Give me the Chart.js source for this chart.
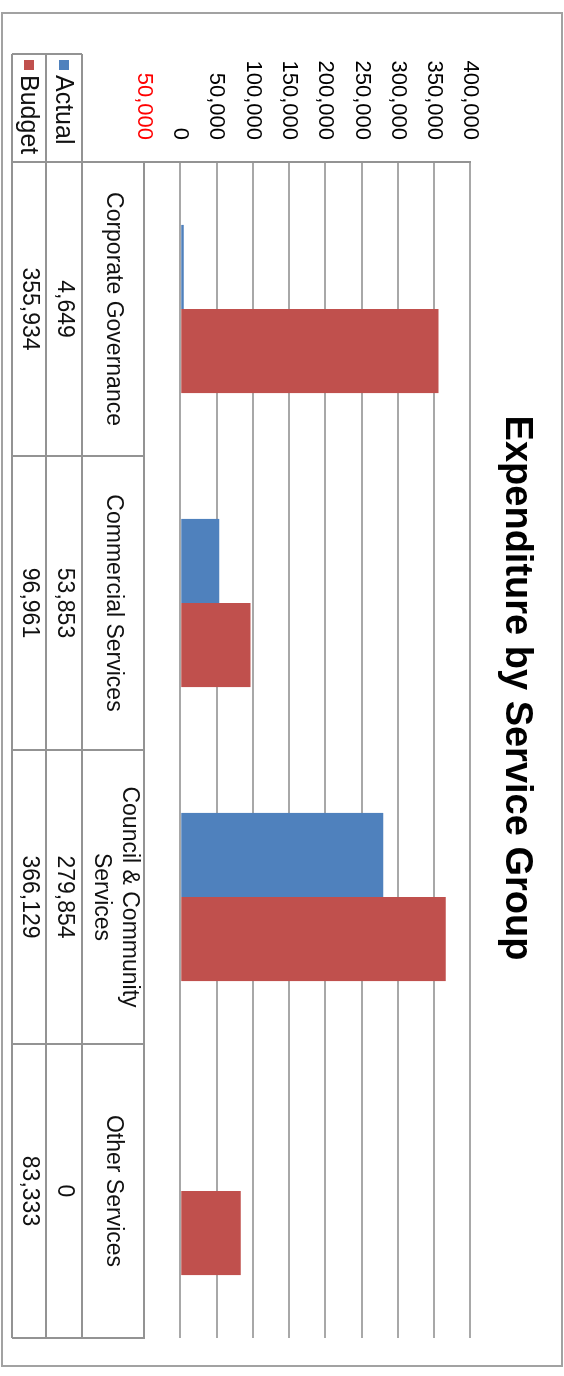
<!DOCTYPE html>
<html>
<head>
<meta charset="utf-8">
<script src="https://cdn.jsdelivr.net/npm/chart.js@4.4.1/dist/chart.umd.min.js"></script>
<style>
html, body { margin: 0; padding: 0; overflow: hidden; background: #fff; width: 564px; height: 1376px; }
/* chart is drawn landscape, then turned a quarter clockwise like the reference */
#wrap { position: absolute; left: 0; top: 0; width: 1376px; height: 564px; transform-origin: 0 0; transform: translateX(564px) rotate(90deg); }
</style>
</head>
<body>
<div id="wrap"><canvas id="chart" width="1376" height="564"></canvas></div>
<script>
var categories = ['Corporate Governance', 'Commercial Services', ['Council & Community', 'Services'], 'Other Services'];
var seriesNames = ['Actual', 'Budget'];
var actual = [4649, 53853, 279854, 0];
var budget = [355934, 96961, 366129, 83333];
var valueTicks = [-50000, 0, 50000, 100000, 150000, 200000, 250000, 300000, 350000, 400000];

var blue = '#4f81bd';
var red = '#c0504d';
var lineCol = '#939393';
var font = '"Liberation Sans", Arial, sans-serif';

function fmt(v) {
    return Math.abs(v).toLocaleString('en-US');
}

var tablePlugin = {
    id: 'dataTable',
    beforeDraw: function(chart) {
        var c = chart.ctx;
        c.save();
        c.fillStyle = '#fff';
        c.fillRect(0, 0, chart.width, chart.height);
        c.strokeStyle = '#a2a2a2';
        c.lineWidth = 2;
        c.strokeRect(13, 2, 1353, 560);
        c.restore();
    },
    afterDraw: function(chart) {
        var c = chart.ctx;
        var area = chart.chartArea;
        var xs = chart.scales.x;
        var n = categories.length;
        var w = (area.right - area.left) / n;
        var rowTop = area.bottom, row1 = 482, row2 = 518, row3 = 552, keyLeft = 54;

        c.save();
        c.strokeStyle = lineCol;
        c.lineWidth = 2;
        c.beginPath();
        // horizontal table rules
        [row1, row2, row3].forEach(function(v) {
            c.moveTo(keyLeft, v); c.lineTo(area.right, v);
        });
        // legend cell left edge
        c.moveTo(keyLeft, row1); c.lineTo(keyLeft, row3);
        // value axis line continues down through the table
        c.moveTo(area.left, area.bottom); c.lineTo(area.left, row3);
        for (var i = 1; i <= n; i++) {
            var u = area.left + i * w;
            c.moveTo(u, rowTop); c.lineTo(u, row3);
        }
        c.stroke();

        // texts
        c.fillStyle = '#111';
        c.font = '23px ' + font;
        c.textAlign = 'center';
        c.textBaseline = 'middle';
        for (var j = 0; j < n; j++) {
            var cx = xs.getPixelForValue(j);
            var lab = categories[j];
            if (Array.isArray(lab)) {
                var mid = (rowTop + row1) / 2 - 2;
                c.fillText(lab[0], cx, mid - 14);
                c.fillText(lab[1], cx, mid + 14);
            } else {
                c.fillText(lab, cx, (rowTop + row1) / 2);
            }
            c.fillText(fmt(actual[j]), cx, (row1 + row2) / 2);
            c.fillText(fmt(budget[j]), cx, (row2 + row3) / 2);
        }

        // legend keys
        c.textAlign = 'left';
        c.font = '25px ' + font;
        c.fillStyle = blue;
        c.fillRect(60, (row1 + row2) / 2 - 5, 10, 10);
        c.fillStyle = red;
        c.fillRect(60, (row2 + row3) / 2 - 5, 10, 10);
        c.fillStyle = '#111';
        c.fillText(seriesNames[0], 75, (row1 + row2) / 2 + 1);
        c.fillText(seriesNames[1], 75, (row2 + row3) / 2 + 1);
        c.restore();
    }
};

var chart = new Chart(document.getElementById('chart'), {
    type: 'bar',
    data: {
        labels: categories,
        datasets: [
            { label: seriesNames[0], data: actual, backgroundColor: blue, borderWidth: 0 },
            { label: seriesNames[1], data: budget, backgroundColor: red, borderWidth: 0 }
        ]
    },
    options: {
        responsive: false,
        animation: false,
        devicePixelRatio: 1,
        layout: { padding: 0 },
        categoryPercentage: 0.572,
        barPercentage: 1.0,
        plugins: {
            legend: { display: false },
            tooltip: { enabled: false },
            title: {
                display: true,
                text: 'Expenditure by Service Group',
                color: '#000',
                font: { family: font, size: 38, weight: 'bold', lineHeight: 1.2 },
                padding: { top: 25, bottom: 23 }
            }
        },
        scales: {
            x: {
                grid: { display: false },
                border: { display: true, color: lineCol, width: 2 },
                ticks: { display: false },
                afterFit: function(s) { s.height = 144; }
            },
            y: {
                min: -50000,
                max: 400000,
                afterBuildTicks: function(s) {
                    s.ticks = valueTicks.map(function(v) { return { value: v }; });
                },
                afterFit: function(s) { s.width = 162; },
                grid: { color: '#a8a8a8', lineWidth: 2, drawTicks: false },
                border: { display: true, color: lineCol, width: 2 },
                ticks: {
                    padding: 22,
                    font: { family: font, size: 22 },
                    color: function(ctx) { return ctx.tick && ctx.tick.value < 0 ? '#ff0000' : '#000'; },
                    callback: function(v) { return fmt(v); }
                }
            },
            // empty spacer on the far side so the title centres on the whole frame
            spacer: {
                position: 'right',
                grid: { display: false },
                border: { display: false },
                ticks: { display: false },
                afterFit: function(s) { s.width = 38; }
            }
        }
    },
    plugins: [tablePlugin]
});
</script>
</body>
</html>
